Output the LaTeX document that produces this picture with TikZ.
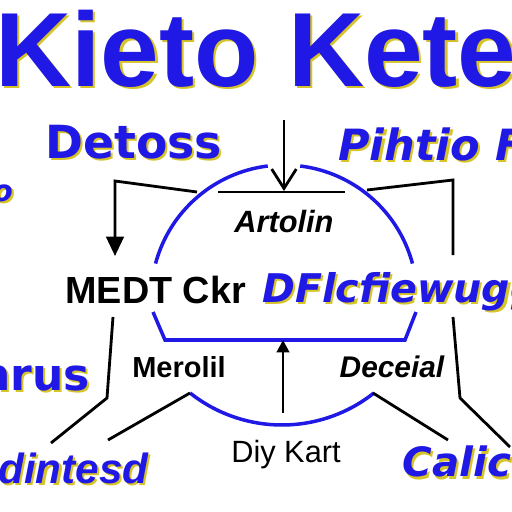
\documentclass[tikz,border=0pt]{standalone}
\usepackage{fontspec}
\setmainfont{Liberation Sans}
\newfontfamily\widefont{DejaVu Sans}
\usetikzlibrary{arrows.meta}
\definecolor{kblue}{RGB}{32,24,228}
\definecolor{kglow}{RGB}{214,196,40}
\newcommand\glow[1]{\rlap{\kern1.3pt\raisebox{-1.3pt}{\color{kglow}#1}}#1}
\newcommand\fsz[1]{\fontsize{#1}{#1}\selectfont}

\begin{document}
\begin{tikzpicture}[x=0.02cm,y=0.02cm,
    bluelbl/.style={text=kblue,inner sep=0pt},
    blacklbl/.style={text=black,inner sep=0pt},
    line/.style={line width=1.6pt,black},
    ring/.style={line width=2pt,kblue}]
    \useasboundingbox (0,0) rectangle (512,512);
    \fill[white] (0,0) rectangle (512,512);
    \clip (0,0) rectangle (512,512);

    \node[bluelbl,anchor=base west,font=\bfseries\fsz{60pt}] (title) at (-5,426) {\glow{Kieto Kete}};
    \node[bluelbl,anchor=base west,font=\widefont\bfseries\fsz{26pt}] (detoss) at (45,354) {\glow{Detoss}};
    \node[bluelbl,anchor=base west,font=\widefont\bfseries\itshape\fsz{24.5pt}] (pihtio) at (338,352) {\glow{Pihtio F}};
    \node[bluelbl,anchor=base west,font=\widefont\bfseries\itshape\fsz{17pt}] (so) at (-8,311) {\glow{o}};
    \node[blacklbl,anchor=base,font=\bfseries\itshape\fsz{17.5pt}] (artolin) at (284,280) {Artolin};
    \node[blacklbl,anchor=base west,font=\bfseries\fsz{21.5pt}] (medt) at (65,209) {MEDT Ckr};
    \node[bluelbl,anchor=base west,font=\widefont\bfseries\itshape\fsz{22.5pt}] (dflc) at (262,210) {\glow{DFlcfiewugg}};
    \node[bluelbl,anchor=base east,font=\widefont\bfseries\fsz{25pt}] (nrus) at (90,122) {\glow{nrus}};
    \node[blacklbl,anchor=base,font=\bfseries\fsz{16.5pt}] (merolil) at (179,134) {Merolil};
    \node[blacklbl,anchor=base,font=\bfseries\itshape\fsz{17pt}] (deceial) at (392,134) {Deceial};
    \node[blacklbl,anchor=base,font=\fsz{17.5pt}] (diy) at (286,50) {Diy Kart};
    \node[bluelbl,anchor=base west,font=\bfseries\itshape\fsz{24pt}] (dintesd) at (-2,29) {\glow{dintesd}};
    \node[bluelbl,anchor=base west,font=\widefont\bfseries\itshape\fsz{23pt}] (calic) at (402,35) {\glow{Calic}};

    \draw[ring] (284,214) ++(97:133) arc[start angle=97,end angle=165,radius=133];
    \draw[ring] (284,214) ++(83:133) arc[start angle=83,end angle=15,radius=133];
    \draw[ring] (153,200) -- (165,172) -- (405,172) -- (416,200);
    \draw[ring] (282,235) ++(231.6:148) arc[start angle=231.6,end angle=308.4,radius=148];

    \coordinate (top) at (284,392);
    \coordinate (bar) at (284,321);
    \coordinate (barl) at (218,320);
    \coordinate (barr) at (345,320);
    \coordinate (lb1) at (197,320);
    \coordinate (lb2) at (115,331);
    \coordinate (lb3) at (115,256);
    \coordinate (rb1) at (367,322);
    \coordinate (rb2) at (453,332);
    \coordinate (rb3) at (453,257);
    \coordinate (ll1) at (113,195);
    \coordinate (ll2) at (107,114);
    \coordinate (ll3) at (51,69);
    \coordinate (rl1) at (453,195);
    \coordinate (rl2) at (460,114);
    \coordinate (rl3) at (510,65);
    \coordinate (al) at (190,119);
    \coordinate (al2) at (108,72);
    \coordinate (ar) at (373,119);
    \coordinate (ar2) at (448,72);
    \coordinate (up1) at (283,99);
    \coordinate (up2) at (283,172);

    \draw[line,-{Straight Barb[width=14pt,length=11pt]}] (top) -- (bar);
    \draw[line] (barl) -- (barr);
    \draw[line,-{Triangle[width=10pt,length=11pt]}] (lb1) -- (lb2) -- (lb3);
    \draw[line] (rb1) -- (rb2) -- (rb3);
    \draw[line] (ll1) -- (ll2) -- (ll3);
    \draw[line] (rl1) -- (rl2) -- (rl3);
    \draw[line] (al) -- (al2);
    \draw[line] (ar) -- (ar2);
    \draw[line,-{Triangle[width=7pt,length=7pt]}] (up1) -- (up2);
\end{tikzpicture}
\end{document}
